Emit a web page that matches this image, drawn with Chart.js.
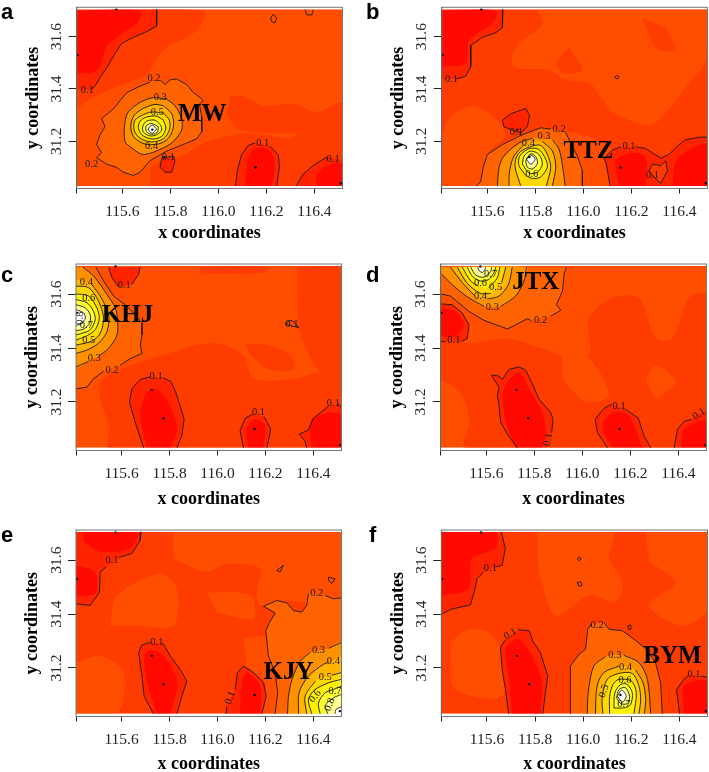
<!DOCTYPE html>
<html>
<head>
<meta charset="utf-8">
<script src="https://cdn.jsdelivr.net/npm/chart.js@4/dist/chart.umd.js"></script>
<style>
html, body { margin: 0; background: #fff; overflow: hidden; width: 709px; height: 772px; }
canvas { position: absolute; }
.tag { position: absolute; font: bold 22px "Liberation Sans", sans-serif; color: #000; line-height: 23px; }
</style>
</head>
<body>
<script>
const xTicks = [115.6, 115.8, 116.0, 116.2, 116.4];
const yTicks = [31.2, 31.4, 31.6];
const xMin = 115.41, xMax = 116.517, yMin = 31.02, yMax = 31.712;
const imgBottom = 31.03, imgTop = 31.705;

// heat colours, low to high
const levelColors = ['#FF0A00', '#FF2400', '#FF3C00', '#FF4E00', '#FF6200', '#FF9000', '#FFB400', '#FFD800', '#FFF000', '#FFFF30', '#FFFF90', '#FFFFFF'];

const stationLon = [115.575, 115.413, 115.725, 115.775, 116.155, 116.51];
const stationLat = [31.703, 31.53, 31.245, 31.14, 31.10, 31.04];

// patches: [colour level, lon, lat, lon, lat ...]
const patchesA = [
  [2, 115.41,31.70, 115.94,31.70, 115.924,31.639, 115.868,31.596, 115.792,31.565, 115.743,31.516, 115.708,31.46, 115.618,31.423, 115.493,31.374, 115.41,31.326],
  [2, 115.715,31.03, 115.726,31.107, 115.847,31.144, 115.938,31.194, 115.979,31.206, 116.063,31.225, 116.146,31.231, 116.299,31.212, 116.34,31.231, 116.517,31.256, 116.517,31.03],
  [2, 116.049,31.373, 116.104,31.373, 116.188,31.336, 116.313,31.343, 116.41,31.312, 116.517,31.349, 116.517,31.25, 116.313,31.231, 116.09,31.243, 116.035,31.299]
];
const coresA = [
  [0, 115.41,31.70, 115.674,31.70, 115.667,31.658, 115.576,31.596, 115.535,31.559, 115.493,31.47, 115.41,31.46],
  [0, 116.111,31.03, 116.125,31.138, 116.16,31.175, 116.215,31.163, 116.236,31.101, 116.222,31.03],
  [0, 116.41,31.03, 116.41,31.076, 116.465,31.113, 116.517,31.113, 116.517,31.03]
];
// contours: [fill level or -1, points with null as a break, 'ring' or closing corners]
const contoursA = [
  [1, [115.743,31.703, 115.743,31.64, 115.701,31.619, 115.646,31.597, 115.597,31.574, 115.569,31.535, 115.538,31.485, 115.515,31.454, 115.486,31.411, 115.47,31.397], [115.41,31.397, 115.41,31.70]],
  [4, [115.757,31.435, 115.778,31.417, 115.799,31.435, 115.826,31.438, 115.868,31.417, 115.896,31.386, 115.924,31.367, 115.938,31.355, 115.921,31.343, 115.931,31.293, 115.931,31.237, 115.91,31.21, 115.854,31.188, 115.785,31.163, 115.715,31.126, 115.674,31.082, 115.646,31.07, 115.604,31.082, 115.576,31.101, 115.535,31.113, 115.493,31.138, 115.514,31.157, 115.493,31.188, 115.507,31.225, 115.528,31.256, 115.514,31.287, 115.563,31.324, 115.618,31.386, 115.674,31.411, 115.715,31.426]],
  [5, [115.785,31.361, 115.819,31.336, 115.847,31.287, 115.847,31.243, 115.813,31.2, 115.771,31.175, 115.688,31.15, 115.639,31.175, 115.611,31.2, 115.611,31.274, 115.625,31.312, 115.674,31.349, 115.729,31.367], 'ring'],
  [6, [115.771,31.336, 115.806,31.305, 115.813,31.256, 115.792,31.212, 115.75,31.19, 115.694,31.19, 115.649,31.215, 115.635,31.256, 115.649,31.299, 115.688,31.326, 115.736,31.341], 'ring'],
  [7, [115.771,31.308, 115.796,31.281, 115.796,31.243, 115.771,31.21, 115.722,31.198, 115.674,31.212, 115.649,31.243, 115.653,31.281, 115.688,31.302, 115.722,31.312], 'ring'],
  [8, [115.771,31.281, 115.781,31.25, 115.764,31.219, 115.722,31.209, 115.681,31.225, 115.667,31.252, 115.674,31.277, 115.701,31.293, 115.743,31.296], 'ring'],
  [9, [115.76,31.262, 115.764,31.243, 115.743,31.225, 115.715,31.221, 115.688,31.235, 115.685,31.256, 115.701,31.277, 115.736,31.281], 'ring'],
  [10, [115.75,31.256, 115.746,31.235, 115.722,31.227, 115.701,31.237, 115.699,31.259, 115.722,31.268], 'ring'],
  [11, [115.743,31.247, 115.725,31.231, 115.708,31.247, 115.725,31.262], 'ring'],
  [1, [115.764,31.136, 115.757,31.101, 115.778,31.082, 115.806,31.082, 115.819,31.126, 115.813,31.144], 'ring'],
  [1, [116.071,31.03, 116.079,31.088, 116.097,31.15, 116.125,31.185, 116.153,31.194, null, 116.215,31.181, 116.25,31.148, 116.254,31.101, 116.243,31.03]],
  [1, [116.324,31.03, 116.354,31.076, 116.403,31.113, 116.444,31.136, 116.458,31.138], [116.517,31.13, 116.517,31.03]],
  [-1, [116.218,31.671, 116.229,31.686, 116.243,31.671, 116.236,31.653, 116.222,31.657], 'ring'],
  [-1, [116.361,31.703, 116.368,31.683, 116.389,31.683, 116.396,31.703]]
];
const labelsA = [['0.2',115.732,31.442],['0.1',115.454,31.396],['0.3',115.758,31.37],['0.5',115.746,31.312],['0.4',115.722,31.181],['0.1',116.185,31.191],['0.1',116.478,31.132],['0.1',115.792,31.138],['0.2',115.472,31.113]];
const nameA = ['MW', 115.933, 31.302];

const patchesB = [
  [3, 115.808,31.703, 115.829,31.646, 115.718,31.559, 115.711,31.485, 115.857,31.473, 115.926,31.435, 116.024,31.423, 116.079,31.361, 116.121,31.312, 116.274,31.262, 116.357,31.324, 116.44,31.423, 116.51,31.51, 116.519,31.703],
  [2, 115.94,31.559, 115.996,31.473, 115.913,31.46, 115.885,31.497],
  [2, 116.246,31.671, 116.301,31.559, 116.385,31.547, 116.343,31.634],
  [3, 115.41,31.225, 115.454,31.299, 115.538,31.336, 115.621,31.299, 115.676,31.225, 115.6,31.15, 115.554,31.03, 115.41,31.03],
  [3, 115.885,31.243, 115.996,31.225, 116.121,31.169, 116.086,31.136, 116.111,31.03, 115.996,31.03]
];
const coresB = [
  [0, 115.41,31.70, 115.635,31.70, 115.628,31.658, 115.524,31.584, 115.51,31.497, 115.41,31.485],
  [0, 116.149,31.03, 116.135,31.126, 116.204,31.157, 116.26,31.138, 116.26,31.03],
  [0, 116.371,31.03, 116.385,31.126, 116.454,31.175, 116.517,31.188, 116.517,31.03]
];
const contoursB = [
  [1, [115.665,31.703, 115.663,31.634, 115.635,31.615, 115.579,31.597, 115.531,31.566, 115.531,31.485, 115.51,31.448, 115.468,31.438], [115.41,31.438, 115.41,31.70]],
  [1, [115.669,31.256, 115.663,31.281, 115.697,31.305, 115.76,31.326, 115.776,31.299, 115.767,31.256, 115.739,31.231], 'ring'],
  [1, [116.111,31.03, 116.096,31.113, 116.086,31.136, 116.121,31.167, 116.156,31.179, null, 116.218,31.179, 116.26,31.173, 116.301,31.148, 116.326,31.136, 116.36,31.153, 116.399,31.188, 116.426,31.206, 116.482,31.216, 116.517,31.216], [116.517,31.03]],
  [2, [116.274,31.088, 116.288,31.113, 116.322,31.107, 116.343,31.126, 116.35,31.088, 116.322,31.039, 116.294,31.064], 'ring'],
  [4, [115.554,31.03, 115.572,31.045, 115.583,31.101, 115.6,31.15, 115.663,31.188, 115.746,31.225, 115.822,31.252, 115.864,31.247, null, 115.926,31.235, 115.947,31.194, 115.975,31.144, 115.996,31.088, 115.996,31.03]],
  [5, [115.642,31.03, 115.649,31.101, 115.669,31.144, 115.732,31.194, 115.788,31.212, null, 115.871,31.206, 115.899,31.169, 115.915,31.095, 115.924,31.03]],
  [6, [115.69,31.03, 115.693,31.088, 115.711,31.144, 115.753,31.188, null, 115.829,31.2, 115.871,31.163, 115.885,31.101, 115.871,31.03]],
  [7, [115.739,31.03, 115.715,31.107, 115.729,31.153, 115.774,31.178, 115.822,31.185, 115.85,31.15, 115.864,31.101, 115.846,31.03]],
  [8, [115.76,31.07, 115.732,31.107, 115.735,31.144, 115.774,31.172, 115.815,31.169, 115.843,31.132, 115.85,31.101, 115.822,31.064, 115.788,31.058], 'ring'],
  [9, [115.746,31.113, 115.753,31.144, 115.781,31.163, 115.815,31.15, 115.829,31.113, 115.808,31.082, 115.774,31.079], 'ring'],
  [10, [115.76,31.126, 115.781,31.153, 115.804,31.138, 115.808,31.113, 115.788,31.095, 115.767,31.101], 'ring'],
  [11, [115.763,31.132, 115.781,31.148, 115.799,31.132, 115.781,31.113], 'ring'],
  [-1, [116.13,31.445, 116.14,31.452, 116.15,31.445, 116.14,31.438], 'ring']
];
const labelsB = [['0.1',115.451,31.438],['0.1',115.721,31.235],['0.2',115.899,31.247],['0.3',115.836,31.219],['0.4',115.771,31.194],['0.1',116.19,31.181],['0.6',115.785,31.076],['0.1',116.288,31.07]];
const nameB = ['TTZ', 116.021, 31.163];

const patchesC = [
  [2, 115.928,31.70, 116.206,31.70, 116.206,31.68, 115.928,31.674],
  [2, 116.331,31.70, 116.517,31.70, 116.517,31.311, 116.428,31.311, 116.344,31.461, 116.331,31.611],
  [2, 115.539,31.03, 115.546,31.111, 115.511,31.211, 115.511,31.274, 115.636,31.336, 115.685,31.349, 115.817,31.386, 115.914,31.411, 115.997,31.418, 116.108,31.374, 116.15,31.286, 116.317,31.286, 116.428,31.311, 116.517,31.311, 116.517,31.03],
  [2, 116.115,31.418, 116.206,31.411, 116.303,31.374, 116.317,31.318, 116.206,31.324, 116.136,31.374]
];
const coresC = [
  [0, 115.706,31.03, 115.678,31.149, 115.706,31.236, 115.747,31.249, 115.803,31.186, 115.831,31.099, 115.803,31.03],
  [0, 116.129,31.03, 116.122,31.099, 116.157,31.136, 116.199,31.111, 116.192,31.03],
  [0, 116.393,31.03, 116.393,31.136, 116.517,31.155, 116.517,31.03]
];
const contoursC = [
  [1, [115.546,31.70, 115.56,31.661, 115.588,31.626, null, 115.643,31.636, 115.671,31.674, 115.678,31.70]],
  [4, [115.493,31.70, 115.525,31.649, 115.567,31.593, 115.615,31.561, 115.657,31.524, 115.685,31.493, 115.685,31.449, 115.678,31.411, 115.685,31.38, 115.636,31.361, 115.594,31.336, null, 115.525,31.314, 115.483,31.286, 115.456,31.255, 115.41,31.249], [115.41,31.70]],
  [5, [115.439,31.70, 115.483,31.668, 115.539,31.599, 115.574,31.549, 115.583,31.499, 115.581,31.449, 115.546,31.399, 115.504,31.37, null, 115.463,31.351, 115.41,31.33], [115.41,31.70]],
  [6, [115.41,31.655, null, 115.476,31.636, 115.511,31.593, 115.546,31.524, 115.539,31.461, 115.504,31.418, 115.456,31.393, 115.41,31.38]],
  [7, [115.41,31.63, 115.463,31.624, 115.504,31.574, 115.525,31.511, 115.511,31.455, 115.476,31.426, 115.41,31.411]],
  [8, [115.41,31.601, 115.463,31.593, 115.497,31.549, 115.507,31.511, 115.49,31.468, 115.449,31.443, 115.41,31.43]],
  [9, [115.41,31.58, 115.456,31.568, 115.483,31.536, 115.49,31.505, 115.469,31.468, 115.435,31.455, 115.41,31.449]],
  [10, [115.41,31.561, 115.449,31.549, 115.469,31.524, 115.467,31.493, 115.442,31.471, 115.41,31.464]],
  [11, [115.41,31.543, 115.442,31.53, 115.449,31.511, 115.435,31.493, 115.41,31.484]],
  [1, [115.692,31.03, 115.657,31.124, 115.633,31.199, 115.643,31.249, 115.678,31.284, 115.719,31.293, null, 115.772,31.29, 115.806,31.276, 115.826,31.236, 115.844,31.186, 115.861,31.136, 115.851,31.074, 115.831,31.03]],
  [1, [116.108,31.03, 116.094,31.093, 116.115,31.14, 116.147,31.155, null, 116.194,31.146, 116.222,31.099, 116.206,31.03]],
  [1, [116.372,31.03, 116.365,31.055, 116.34,31.08, 116.379,31.096, 116.4,31.14, 116.449,31.174, 116.462,31.184, null, 116.504,31.193, 116.517,31.18], [116.517,31.03]],
  [-1, [116.282,31.489, 116.303,31.503, 116.317,31.499, 116.338,31.476, 116.303,31.484], 'ring']
];
const labelsC = [['0.1',115.611,31.634],['0.4',115.453,31.646],['0.6',115.463,31.586],['0.8',115.428,31.511,-90],['0.7',115.453,31.483],['0.5',115.463,31.43],['0.3',115.486,31.364],['0.2',115.56,31.318],['0.1',115.744,31.296],['0.1',116.171,31.161],['0.1',116.483,31.195],['0.1',116.31,31.49]];
const nameC = ['KHJ', 115.625, 31.521];

const patchesD = [
  [2, 115.41,31.449, 115.528,31.418, 115.681,31.436, 115.833,31.399, 115.944,31.361, 116.028,31.374, 116.028,31.511, 116.125,31.586, 116.236,31.586, 116.306,31.436, 116.375,31.436, 116.444,31.586, 116.517,31.599, 116.517,31.03, 115.514,31.03, 115.528,31.124, 115.5,31.224, 115.41,31.286],
  [3, 116.264,31.286, 116.306,31.336, 116.389,31.274, 116.306,31.211],
  [3, 115.917,31.374, 116.028,31.361, 116.111,31.224, 116.014,31.2, 115.917,31.286]
];
const coresD = [
  [0, 115.41,31.549, 115.472,31.536, 115.507,31.486, 115.472,31.444, 115.41,31.444],
  [0, 115.722,31.03, 115.681,31.124, 115.674,31.249, 115.736,31.311, 115.778,31.249, 115.833,31.161, 115.847,31.086, 115.833,31.03],
  [0, 116.125,31.03, 116.083,31.111, 116.125,31.161, 116.194,31.149, 116.25,31.03],
  [0, 116.41,31.03, 116.424,31.099, 116.517,31.13, 116.517,31.03]
];
const contoursD = [
  [4, [115.41,31.601, 115.451,31.593, 115.528,31.536, 115.59,31.503, 115.688,31.471, 115.736,31.493, 115.771,31.509, 115.789,31.501, null, 115.868,31.518, 115.91,31.54, 115.892,31.561, 115.917,31.611, 115.924,31.674, 115.933,31.70], [115.41,31.70]],
  [1, [115.41,31.564, 115.458,31.561, 115.5,31.53, 115.528,31.486, 115.521,31.436, 115.497,31.424, null, 115.43,31.424, 115.41,31.424]],
  [5, [115.414,31.674, 115.472,31.624, 115.528,31.586, 115.59,31.555, null, 115.66,31.555, 115.722,31.593, 115.757,31.649, 115.767,31.70], [115.41,31.70]],
  [6, [115.451,31.70, 115.5,31.643, 115.549,31.596, null, 115.604,31.582, 115.653,31.593, 115.692,31.636, 115.708,31.70]],
  [7, [115.479,31.70, 115.521,31.64, 115.576,31.603, 115.618,31.603, null, 115.664,31.643, 115.681,31.70]],
  [8, [115.5,31.70, 115.535,31.649, 115.567,31.63, null, 115.611,31.624, 115.646,31.661, 115.656,31.70]],
  [9, [115.521,31.70, 115.542,31.666, 115.576,31.649, 115.611,31.655, 115.632,31.68, 115.639,31.70]],
  [10, [115.535,31.70, 115.556,31.671, 115.59,31.663, 115.618,31.684, 115.622,31.70]],
  [11, [115.564,31.70, 115.571,31.686, 115.585,31.681, 115.594,31.691, 115.597,31.70]],
  [1, [115.729,31.03, 115.688,31.08, 115.66,31.124, 115.653,31.186, 115.646,31.224, 115.653,31.255, 115.632,31.284, 115.622,31.299, 115.646,31.299, 115.667,31.284, 115.694,31.321, 115.736,31.33, 115.764,31.318, 115.792,31.268, 115.819,31.211, 115.868,31.161, 115.878,31.136, 115.872,31.086, null, 115.85,31.03]],
  [1, [116.104,31.03, 116.063,31.086, 116.053,31.136, 116.09,31.176, 116.122,31.193, null, 116.178,31.174, 116.233,31.14, 116.257,31.074, 116.285,31.03]],
  [1, [116.382,31.03, 116.396,31.099, 116.424,31.128, 116.456,31.136, null, 116.517,31.171], [116.517,31.03]]
];
const labelsD = [['0.7',115.618,31.674],['0.6',115.576,31.639],['0.5',115.639,31.624],['0.4',115.576,31.593],['0.3',115.625,31.551],['0.2',115.826,31.505],['0.1',115.465,31.43],['0.1',115.858,31.061,-80],['0.1',116.153,31.186],['0.1',116.486,31.155,-30]];
const nameD = ['JTX', 115.806, 31.643];

const patchesE = [
  [3, 115.817,31.705, 116.517,31.705, 116.517,31.456, 116.247,31.45, 116.178,31.432, 116.164,31.481, 116.178,31.569, 116.039,31.587, 115.956,31.556, 115.817,31.606],
  [3, 115.553,31.357, 115.581,31.469, 115.761,31.55, 115.831,31.494, 115.817,31.357, 115.678,31.357],
  [3, 115.956,31.481, 116.136,31.469, 116.15,31.382, 115.997,31.407],
  [3, 115.41,31.22, 115.511,31.245, 115.608,31.183, 115.581,31.03, 115.41,31.03],
  [3, 116.108,31.307, 116.199,31.313, 116.254,31.17, 116.24,31.03, 116.192,31.03, 116.199,31.145, 116.122,31.207]
];
const coresE = [
  [0, 115.441,31.705, 115.664,31.705, 115.636,31.643, 115.511,31.631, 115.441,31.668],
  [0, 115.41,31.581, 115.49,31.556, 115.49,31.475, 115.41,31.469],
  [0, 115.747,31.03, 115.706,31.145, 115.699,31.257, 115.761,31.257, 115.831,31.158, 115.817,31.07, 115.803,31.03],
  [0, 116.094,31.03, 116.101,31.145, 116.122,31.183, 116.178,31.133, 116.178,31.03]
];
const contoursE = [
  [1, [115.681,31.705, 115.678,31.674, 115.643,31.625, 115.588,31.61, null, 115.536,31.575, 115.511,31.556, 115.508,31.481, 115.469,31.432, 115.41,31.438], [115.41,31.705]],
  [1, [115.733,31.03, 115.694,31.095, 115.685,31.17, 115.671,31.257, 115.685,31.286, 115.719,31.295, null, 115.772,31.292, 115.803,31.245, 115.844,31.195, 115.872,31.151, 115.851,31.095, 115.831,31.03]],
  [1, [116.035,31.03, 116.039,31.058, null, 116.074,31.12, 116.083,31.183, 116.108,31.207, 116.15,31.183, 116.192,31.145, 116.203,31.095, 116.185,31.03]],
  [4, [116.24,31.03, 116.251,31.108, 116.24,31.183, 116.212,31.245, 116.206,31.301, 116.201,31.338, 116.217,31.369, 116.24,31.404, 116.192,31.429, 116.247,31.45, 116.289,31.442, 116.317,31.413, 116.351,31.407, 116.372,31.432, 116.379,31.475, null, 116.449,31.469, 116.483,31.457, 116.517,31.46], [116.517,31.03]],
  [5, [116.292,31.03, 116.296,31.095, 116.311,31.158, 116.344,31.224, 116.386,31.257, null, 116.463,31.273, 116.517,31.295], [116.517,31.03]],
  [6, [116.338,31.03, 116.34,31.108, 116.379,31.17, 116.442,31.214, 116.463,31.22, null, 116.517,31.239], [116.517,31.03]],
  [7, [116.372,31.03, 116.365,31.095, 116.407,31.151, null, 116.476,31.173, 116.517,31.183], [116.517,31.03]],
  [8, [116.393,31.03, 116.379,31.083, 116.407,31.12, 116.463,31.145, 116.517,31.158], [116.517,31.03]],
  [9, [116.428,31.03, 116.421,31.07, 116.449,31.108, 116.483,31.12, 116.517,31.133], [116.517,31.03]],
  [10, [116.46,31.03, 116.449,31.06, 116.483,31.089, 116.517,31.102], [116.517,31.03]],
  [11, [116.49,31.03, 116.494,31.046, 116.517,31.056], [116.517,31.03]],
  [-1, [116.463,31.537, 116.49,31.531, 116.476,31.513, 116.463,31.525], 'ring'],
  [-1, [116.247,31.562, 116.275,31.581, 116.261,31.556], 'ring']
];
const labelsE = [['0.1',115.56,31.6],['0.1',115.747,31.295],['0.1',116.053,31.089,-70],['0.2',116.414,31.478],['0.3',116.421,31.264],['0.4',116.483,31.224],['0.5',116.449,31.164],['0.6',116.407,31.095,-50],['0.7',116.49,31.114],['0.8',116.469,31.064,-70]];
const nameE = ['KJY', 116.296, 31.183];

const patchesF = [
  [3, 115.808,31.705, 116.121,31.705, 116.107,31.606, 116.163,31.519, 116.135,31.444, 116.024,31.469, 115.885,31.394, 115.815,31.556],
  [3, 116.26,31.705, 116.517,31.705, 116.517,31.419, 116.413,31.357, 116.274,31.432, 116.385,31.519, 116.274,31.594],
  [3, 115.447,31.295, 115.524,31.344, 115.607,31.332, 115.656,31.27, 115.663,31.095, 115.468,31.12, 115.447,31.22]
];
const coresF = [
  [0, 115.41,31.705, 115.635,31.705, 115.635,31.643, 115.538,31.606, 115.524,31.494, 115.41,31.469],
  [0, 115.704,31.03, 115.69,31.17, 115.676,31.27, 115.732,31.307, 115.788,31.245, 115.829,31.145, 115.822,31.03],
  [0, 116.419,31.03, 116.419,31.133, 116.517,31.151, 116.517,31.03]
];
const contoursF = [
  [1, [115.66,31.705, 115.676,31.643, 115.663,31.581, 115.635,31.575, null, 115.586,31.556, 115.558,31.531, 115.549,31.488, 115.531,31.434, 115.454,31.419, 115.41,31.40], [115.41,31.705]],
  [1, [115.69,31.03, 115.679,31.108, 115.663,31.195, 115.656,31.276, 115.676,31.305, null, 115.729,31.342, 115.776,31.338, 115.79,31.301, 115.822,31.257, 115.853,31.17, 115.843,31.108, 115.832,31.03]],
  [1, [116.401,31.03, 116.388,31.12, 116.419,31.158, 116.438,31.173, null, 116.489,31.17, 116.517,31.166], [116.517,31.03]],
  [4, [115.947,31.03, 115.947,31.207, 115.979,31.247, 116.01,31.27, 116.019,31.344, 116.035,31.363, null, 116.086,31.369, 116.107,31.344, 116.163,31.338, 116.211,31.307, 116.263,31.27, 116.301,31.22, 116.322,31.145, 116.329,31.03]],
  [5, [116.017,31.03, 116.021,31.108, 116.044,31.207, 116.093,31.242, null, 116.169,31.247, 116.232,31.22, 116.267,31.158, 116.281,31.03]],
  [6, [116.051,31.03, 116.058,31.133, 116.086,31.183, 116.149,31.207, null, 116.218,31.193, 116.249,31.145, 116.26,31.083, 116.254,31.03]],
  [7, [116.082,31.03, 116.079,31.089, 116.1,31.158, 116.149,31.18, 116.204,31.18, 116.232,31.133, 116.239,31.083, 116.232,31.03]],
  [8, [116.11,31.03, 116.11,31.095, 116.124,31.139, 116.149,31.158, 116.201,31.151, 116.221,31.108, 116.211,31.03]],
  [9, [116.128,31.052, 116.132,31.108, 116.156,31.139, 116.183,31.139, 116.204,31.108, 116.197,31.064, 116.169,31.052], 'ring'],
  [10, [116.139,31.089, 116.149,31.12, 116.176,31.127, 116.193,31.095, 116.183,31.068, 116.156,31.068], 'ring'],
  [11, [116.142,31.095, 116.16,31.118, 116.179,31.095, 116.163,31.073], 'ring'],
  [-1, [115.976,31.606, 115.985,31.612, 115.992,31.604, 115.982,31.598], 'ring'],
  [-1, [115.975,31.517, 115.99,31.52, 115.995,31.506, 115.982,31.503], 'ring'],
  [-1, [116.185,31.356, 116.197,31.36, 116.2,31.345, 116.19,31.342], 'ring']
];
const labelsF = [['0.1',115.614,31.569],['0.1',115.697,31.326,-30],['0.2',116.058,31.359],['0.3',116.132,31.249],['0.4',116.176,31.204],['0.6',116.174,31.155],['0.5',116.086,31.114,-70],['0.7',116.169,31.064],['0.1',116.461,31.176]];
const nameF = ['BYM', 116.371, 31.242];

function toPoints(list) {
  const out = [];
  for (let i = 0; i < list.length; i++) {
    if (list[i] === null) { out.push({ x: null, y: null }); continue; }
    out.push({ x: list[i], y: list[i + 1] });
    i++;
  }
  return out;
}

function clampFill(pts) {
  return pts.filter(p => p.x !== null).map(p => ({
    x: Math.min(xMax, Math.max(xMin, p.x)),
    y: Math.min(imgTop, Math.max(imgBottom, p.y))
  }));
}

function fillSet(level, pts, tension) {
  return { data: clampFill(pts), showLine: true, fill: 'shape', borderWidth: 0, borderColor: 'transparent',
    backgroundColor: levelColors[level], pointRadius: 0, tension: tension || 0 };
}

function whiteStrip(y0, y1) {
  return { data: [{ x: xMin, y: y0 }, { x: xMin, y: y1 }, { x: xMax, y: y1 }, { x: xMax, y: y0 }], showLine: true, fill: 'shape',
    borderWidth: 0, borderColor: 'transparent', backgroundColor: '#fff', pointRadius: 0 };
}

function buildDatasets(base, patches, contours, cores) {
  const sets = [fillSet(base, [{ x: xMin, y: imgBottom }, { x: xMin, y: imgTop }, { x: xMax, y: imgTop }, { x: xMax, y: imgBottom }])];
  patches.forEach(p => sets.push(fillSet(p[0], toPoints(p.slice(1)), 0.3)));
  contours.forEach(c => {
    if (c[0] < 0) return;
    const extra = Array.isArray(c[2]) ? toPoints(c[2]) : [];
    sets.push(fillSet(c[0], toPoints(c[1]).concat(extra), c[0] >= 5 ? 0.3 : 0));
  });
  cores.forEach(p => sets.push(fillSet(p[0], toPoints(p.slice(1)), 0.3)));
  sets.push(whiteStrip(yMin, imgBottom), whiteStrip(imgTop, yMax));
  contours.forEach(c => {
    const pts = toPoints(c[1]).map(p => p.x === null ? p : { x: Math.min(xMax, p.x), y: Math.max(imgBottom, Math.min(imgTop, p.y)) });
    if (c[2] === 'ring') pts.push(pts[0]);
    sets.push({ data: pts, showLine: true, fill: false, borderColor: '#1a1a1a', borderWidth: 0.9, pointRadius: 0,
      tension: c[0] >= 5 ? 0.3 : 0, spanGaps: false });
  });
  sets.push({ data: stationLon.map((lon, i) => ({ x: lon, y: stationLat[i] })), showLine: false, pointRadius: 1.2,
    backgroundColor: '#000', borderWidth: 0 });
  sets.forEach((s, i) => { s.order = sets.length - i; });
  return sets;
}

function drawPanel(p) {
  const canvas = document.createElement('canvas');
  const yw = p.axisLeft - p.left;
  const w = p.axisRight - p.left + 2.5;
  const xh = p.titleGap + 10.5;
  canvas.width = Math.ceil(w);
  canvas.height = Math.ceil(p.bottom - p.top + xh);
  canvas.style.left = p.left + 'px';
  canvas.style.top = p.top + 'px';
  document.body.appendChild(canvas);

  const textPlugin = {
    id: 'panelText',
    afterDatasetsDraw(chart) {
      const ctx = chart.ctx, xs = chart.scales.x, ys = chart.scales.y, area = chart.chartArea;
      ctx.save();
      ctx.textAlign = 'center';
      ctx.textBaseline = 'middle';
      ctx.fillStyle = '#1a1a1a';
      ctx.font = '10.5px "Liberation Serif"';
      p.labels.forEach(l => {
        ctx.save();
        ctx.translate(xs.getPixelForValue(l[1]), ys.getPixelForValue(l[2]));
        if (l[3]) ctx.rotate(l[3] * Math.PI / 180);
        ctx.fillText(l[0], 0, 0);
        ctx.restore();
      });
      ctx.fillStyle = '#000';
      ctx.font = 'bold 25px "Liberation Serif"';
      ctx.fillText(p.name[0], xs.getPixelForValue(p.name[1]), ys.getPixelForValue(p.name[2]));
      ctx.strokeStyle = '#777';
      ctx.lineWidth = 1;
      ctx.strokeRect(area.left, area.top, area.right - area.left, area.bottom - area.top);
      ctx.restore();
    }
  };

  return new Chart(canvas, {
    type: 'scatter',
    data: { datasets: buildDatasets(p.base, p.patches, p.contours, p.cores) },
    plugins: [textPlugin],
    options: {
      responsive: false,
      animation: false,
      events: [],
      layout: { autoPadding: false, padding: { left: 0, top: p.plotTop - p.top, right: w - (p.axisRight - p.left), bottom: 0 } },
      plugins: { legend: { display: false }, tooltip: { enabled: false } },
      scales: {
        x: {
          type: 'linear', min: xMin, max: xMax,
          afterFit(s) { s.height = xh; },
          afterBuildTicks(s) { s.ticks = [xMin].concat(xTicks).map(v => ({ value: v })); },
          grid: { drawOnChartArea: false, tickLength: 5, color: '#222' },
          border: { color: '#222' },
          ticks: {
            autoSkip: false, maxRotation: 0, padding: 9, color: '#222',
            font: { family: '"Liberation Serif"', size: 15.5 },
            callback: v => xTicks.includes(v) ? v.toFixed(1) : ''
          },
          title: { display: true, text: 'x coordinates', color: '#000', padding: 0,
            font: { family: '"Liberation Serif"', size: 18, weight: 'bold' } }
        },
        y: {
          type: 'linear', min: yMin, max: yMax,
          afterFit(s) { s.width = yw; },
          afterBuildTicks(s) { s.ticks = yTicks.map(v => ({ value: v })); },
          grid: { drawOnChartArea: false, tickLength: 8, color: '#222' },
          border: { color: '#222' },
          ticks: {
            autoSkip: false, minRotation: 90, maxRotation: 90, crossAlign: 'center', padding: -2, color: '#222',
            font: { family: '"Liberation Serif"', size: 15.5 },
            callback: v => v.toFixed(1)
          },
          title: { display: true, text: 'y coordinates', color: '#000', padding: { top: yw - 43.7 - 10.5, bottom: 0 },
            font: { family: '"Liberation Serif"', size: 18, weight: 'bold' } }
        }
      }
    }
  });
}

const panels = [
  { tag: 'a', tagX: 1, tagY: 0, left: 0, top: 0, plotTop: 2.5, bottom: 188, axisLeft: 76.7, axisRight: 342.3, titleGap: 45, base: 3, patches: patchesA, contours: contoursA, cores: coresA, labels: labelsA, name: nameA },
  { tag: 'b', tagX: 366, tagY: 0, left: 355, top: 0, plotTop: 2.5, bottom: 188, axisLeft: 441.7, axisRight: 707.3, titleGap: 45, base: 2, patches: patchesB, contours: contoursB, cores: coresB, labels: labelsB, name: nameB },
  { tag: 'c', tagX: 1, tagY: 263, left: 0, top: 255, plotTop: 264, bottom: 450, axisLeft: 76, axisRight: 341.3, titleGap: 49, base: 3, patches: patchesC, contours: contoursC, cores: coresC, labels: labelsC, name: nameC },
  { tag: 'd', tagX: 366, tagY: 263, left: 355, top: 255, plotTop: 264, bottom: 450, axisLeft: 440.7, axisRight: 706, titleGap: 49, base: 3, patches: patchesD, contours: contoursD, cores: coresD, labels: labelsD, name: nameD },
  { tag: 'e', tagX: 1, tagY: 523, left: 0, top: 515, plotTop: 530, bottom: 716, axisLeft: 76, axisRight: 341.3, titleGap: 48, base: 2, patches: patchesE, contours: contoursE, cores: coresE, labels: labelsE, name: nameE },
  { tag: 'f', tagX: 369, tagY: 523, left: 355, top: 515, plotTop: 530, bottom: 716, axisLeft: 441.3, axisRight: 707.3, titleGap: 48, base: 2, patches: patchesF, contours: contoursF, cores: coresF, labels: labelsF, name: nameF }
];

panels.forEach(p => {
  drawPanel(p);
  const t = document.createElement('div');
  t.className = 'tag';
  t.textContent = p.tag;
  t.style.left = p.tagX + 'px';
  t.style.top = p.tagY + 'px';
  document.body.appendChild(t);
});
</script>
</body>
</html>
